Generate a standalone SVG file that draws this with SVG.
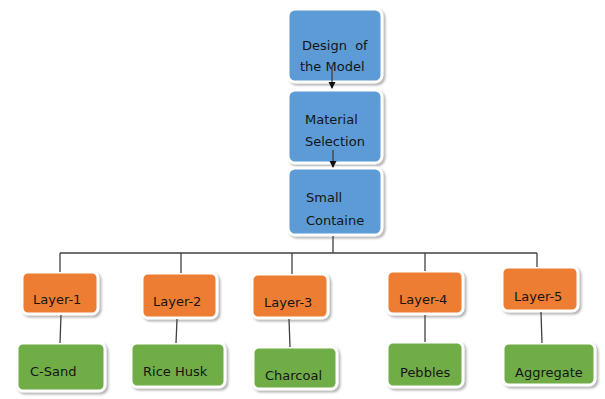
<svg xmlns="http://www.w3.org/2000/svg" width="605" height="399" viewBox="0 0 605 399">
<style>
.box{stroke:#ffffff;stroke-width:3;filter:url(#sh)}
.blue{fill:#5B9BD5}
.orange{fill:#ED7D31}
.green{fill:#70AD47}
text{font-family:"DejaVu Sans","Liberation Sans",sans-serif;font-size:13px;fill:#151515}
.ln{stroke:#404040;stroke-width:1.3;fill:none}
</style>
<defs>
<filter id="sh" x="-20%" y="-20%" width="150%" height="150%">
<feDropShadow dx="2" dy="2" stdDeviation="1.2" flood-color="#777" flood-opacity="0.55"/>
</filter>
<marker id="ah" markerWidth="8" markerHeight="8" refX="6" refY="3.5" orient="auto" markerUnits="userSpaceOnUse">
<path d="M0,0 L7,3.5 L0,7 Z" fill="#111"/>
</marker>
</defs>
<rect width="605" height="399" fill="#ffffff"/>
<g id="n-design"><rect class="box blue" x="288" y="9" width="94" height="73" rx="7"/><text x="302" y="50">Design&#160; of</text><text x="300" y="71">the Model</text></g>
<g id="n-material"><rect class="box blue" x="288" y="90" width="94" height="73" rx="7"/><text x="305" y="124">Material</text><text x="305" y="146">Selection</text></g>
<g id="n-small"><rect class="box blue" x="288" y="168" width="94" height="67" rx="7"/><text x="306" y="202">Small</text><text x="306" y="225">Containe</text></g>
<g id="n-layer1"><rect class="box orange" x="22" y="272" width="76" height="42" rx="6"/><text x="33" y="304">Layer-1</text></g>
<g id="n-layer2"><rect class="box orange" x="142" y="273" width="75" height="45" rx="6"/><text x="153" y="306">Layer-2</text></g>
<g id="n-layer3"><rect class="box orange" x="252" y="274" width="76" height="44" rx="6"/><text x="264" y="307">Layer-3</text></g>
<g id="n-layer4"><rect class="box orange" x="387" y="271" width="76" height="43" rx="6"/><text x="399" y="304">Layer-4</text></g>
<g id="n-layer5"><rect class="box orange" x="502" y="267" width="76" height="44" rx="6"/><text x="514" y="301">Layer-5</text></g>
<g id="n-csand"><rect class="box green" x="17" y="343" width="88" height="48" rx="6"/><text x="30" y="376">C-Sand</text></g>
<g id="n-rice"><rect class="box green" x="131" y="343" width="94" height="44" rx="6"/><text x="143" y="376">Rice Husk</text></g>
<g id="n-charcoal"><rect class="box green" x="253" y="347" width="84" height="42" rx="6"/><text x="265" y="380">Charcoal</text></g>
<g id="n-pebbles"><rect class="box green" x="387" y="342" width="76" height="45" rx="6"/><text x="400" y="377">Pebbles</text></g>
<g id="n-aggregate"><rect class="box green" x="503" y="343" width="92" height="42" rx="6"/><text x="515" y="377">Aggregate</text></g>
<g id="connectors">
<line class="ln" x1="332" y1="68" x2="332" y2="88" marker-end="url(#ah)"/>
<line class="ln" x1="333" y1="150" x2="333" y2="167" marker-end="url(#ah)"/>
<line class="ln" x1="333" y1="236" x2="333" y2="253"/>
<line class="ln" x1="60" y1="253" x2="537" y2="253"/>
<line class="ln" x1="60" y1="253" x2="60" y2="272"/>
<line class="ln" x1="181" y1="253" x2="181" y2="273"/>
<line class="ln" x1="292" y1="253" x2="292" y2="274"/>
<line class="ln" x1="425" y1="253" x2="425" y2="271"/>
<line class="ln" x1="537" y1="253" x2="537" y2="267"/>
<line class="ln" x1="61" y1="315" x2="60" y2="343"/>
<line class="ln" x1="177" y1="319" x2="176" y2="343"/>
<line class="ln" x1="289" y1="319" x2="290" y2="347"/>
<line class="ln" x1="425" y1="315" x2="425" y2="342"/>
<line class="ln" x1="541" y1="312" x2="542" y2="343"/>
</g>
</svg>
